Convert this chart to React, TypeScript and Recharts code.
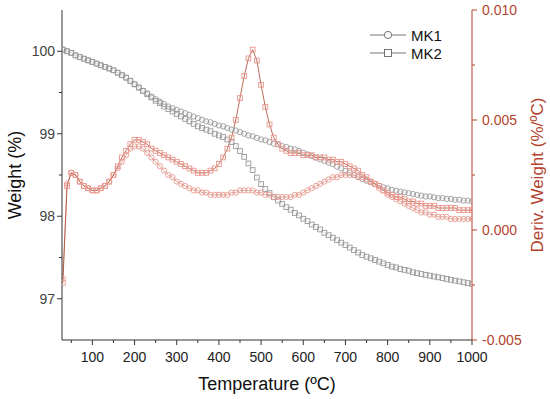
import { LineChart, Line, XAxis, YAxis, Legend } from 'recharts';

// temperature (ºC)
const temps = [
  30, 40, 50, 60, 70, 80, 90, 100, 110, 120, 130, 140, 150, 160, 170, 180, 190, 200,
  210, 220, 230, 240, 250, 260, 270, 280, 290, 300, 310, 320, 330, 340, 350, 360, 370, 380, 390, 400,
  410, 420, 430, 440, 450, 460, 470, 480, 490, 500, 510, 520, 530, 540, 550, 560, 570, 580, 590, 600,
  610, 620, 630, 640, 650, 660, 670, 680, 690, 700, 710, 720, 730, 740, 750, 760, 770, 780, 790, 800,
  810, 820, 830, 840, 850, 860, 870, 880, 890, 900, 910, 920, 930, 940, 950, 960, 970, 980, 990, 1000,
];

// weight (%)
const weightMK1 = [
  100.02, 100.0, 99.98, 99.95, 99.93, 99.91, 99.89, 99.87, 99.85, 99.83, 99.81, 99.79, 99.77, 99.74, 99.71, 99.68, 99.64, 99.6,
  99.56, 99.52, 99.49, 99.45, 99.42, 99.39, 99.36, 99.33, 99.31, 99.29, 99.27, 99.25, 99.23, 99.21, 99.19, 99.17, 99.15, 99.14, 99.12, 99.1,
  99.09, 99.07, 99.05, 99.04, 99.02, 99.0, 98.98, 98.97, 98.95, 98.93, 98.92, 98.9, 98.88, 98.87, 98.85, 98.84, 98.82, 98.81, 98.79, 98.77,
  98.75, 98.73, 98.71, 98.69, 98.67, 98.65, 98.63, 98.6, 98.58, 98.55, 98.53, 98.5, 98.48, 98.45, 98.43, 98.41, 98.39, 98.37, 98.35, 98.34,
  98.32, 98.31, 98.3, 98.29, 98.28, 98.27, 98.26, 98.25, 98.24, 98.24, 98.23, 98.22, 98.22, 98.21, 98.21, 98.2, 98.2, 98.19, 98.19, 98.18,
];
const weightMK2 = [
  100.02, 100.0, 99.98, 99.95, 99.93, 99.91, 99.89, 99.87, 99.85, 99.83, 99.81, 99.79, 99.77, 99.74, 99.71, 99.68, 99.64, 99.6,
  99.56, 99.52, 99.48, 99.44, 99.4, 99.37, 99.33, 99.3, 99.27, 99.24, 99.21, 99.18, 99.15, 99.12, 99.09, 99.07, 99.05, 99.03, 99.0, 98.98,
  98.96, 98.93, 98.9, 98.85, 98.79, 98.72, 98.64, 98.56, 98.47, 98.39, 98.33, 98.28, 98.23, 98.19, 98.15, 98.11, 98.08, 98.04, 98.01, 97.97,
  97.94, 97.9, 97.87, 97.84, 97.8, 97.77, 97.74, 97.71, 97.68, 97.65, 97.62, 97.59, 97.56, 97.53, 97.51, 97.49, 97.47, 97.45, 97.43, 97.41,
  97.39, 97.38, 97.36, 97.35, 97.34, 97.32, 97.31, 97.3, 97.29, 97.28, 97.27, 97.26, 97.25, 97.24, 97.23, 97.22, 97.21, 97.2, 97.19, 97.18,
];

// derivative weight (%/ºC)
const derivMK1 = [
  -0.0022, 0.0021, 0.0026, 0.0025, 0.0022, 0.002, 0.0019, 0.0018, 0.0018, 0.0019, 0.002, 0.0022, 0.0025, 0.0028, 0.0031, 0.0034, 0.0037, 0.0038,
  0.0038, 0.0037, 0.0035, 0.0033, 0.0031, 0.0029, 0.0027, 0.0025, 0.0024, 0.0022, 0.0021, 0.002, 0.0019, 0.0018, 0.0018, 0.0017, 0.0017, 0.0016, 0.0016, 0.0016,
  0.0016, 0.0016, 0.0017, 0.0017, 0.0018, 0.0018, 0.0018, 0.0018, 0.0017, 0.0017, 0.0016, 0.0016, 0.0015, 0.0015, 0.0015, 0.0015, 0.0015, 0.0016, 0.0016, 0.0017,
  0.0018, 0.0019, 0.002, 0.0021, 0.0022, 0.0023, 0.0024, 0.0024, 0.0025, 0.0025, 0.0025, 0.0025, 0.0024, 0.0024, 0.0023, 0.0022, 0.0021, 0.0019, 0.0018, 0.0016,
  0.0015, 0.0014, 0.0013, 0.0012, 0.0011, 0.001, 0.0009, 0.0008, 0.0008, 0.0007, 0.0007, 0.0006, 0.0006, 0.0006, 0.0005, 0.0005, 0.0005, 0.0005, 0.0005, 0.0005,
];
const derivMK2 = [
  -0.0024, 0.002, 0.0026, 0.0025, 0.0022, 0.002, 0.0019, 0.0018, 0.0018, 0.0019, 0.002, 0.0022, 0.0025, 0.0029, 0.0033, 0.0036, 0.0039, 0.0041,
  0.0041, 0.004, 0.0039, 0.0037, 0.0036, 0.0035, 0.0034, 0.0033, 0.0032, 0.0031, 0.003, 0.0029, 0.0028, 0.0027, 0.0026, 0.0026, 0.0026, 0.0027, 0.0028, 0.003,
  0.0033, 0.0037, 0.0042, 0.005, 0.006, 0.007, 0.0078, 0.0082, 0.0077, 0.0066, 0.0056, 0.0048, 0.0042, 0.0039, 0.0037, 0.0036, 0.0035, 0.0035, 0.0035, 0.0034,
  0.0034, 0.0034, 0.0033, 0.0033, 0.0033, 0.0032, 0.0032, 0.0031, 0.0031, 0.003, 0.0029, 0.0028, 0.0027, 0.0025, 0.0024, 0.0022, 0.0021, 0.002, 0.0018, 0.0017,
  0.0016, 0.0015, 0.0015, 0.0014, 0.0013, 0.0013, 0.0012, 0.0012, 0.0011, 0.0011, 0.0011, 0.001, 0.001, 0.001, 0.001, 0.001, 0.0009, 0.0009, 0.0009, 0.0009,
];

const xTicks = [50, 100, 150, 200, 250, 300, 350, 400, 450, 500, 550, 600, 650, 700, 750, 800, 850, 900, 950, 1000];
const xLabels = [100, 200, 300, 400, 500, 600, 700, 800, 900, 1000];
const leftTicks = [97, 97.5, 98, 98.5, 99, 99.5, 100];
const leftLabels = [97, 98, 99, 100];
const rightTicks = [-0.005, -0.0025, 0, 0.0025, 0.005, 0.0075, 0.01];
const rightLabels = [-0.005, 0, 0.005, 0.01];

const data = temps.map((t, i) => ({
  t,
  w1: weightMK1[i],
  w2: weightMK2[i],
  d1: derivMK1[i],
  d2: derivMK2[i],
}));

const AXIS = '#333';
const RED = '#b4432e';
const FONT = '"Liberation Sans", Arial, sans-serif';

const BottomTick = (p: any) => {
  const v = p.payload.value;
  const major = xLabels.includes(v);
  return (
    <g>
      <line x1={p.x} x2={p.x} y1={p.y} y2={p.y + (major ? 5 : 3)} stroke={AXIS} strokeWidth={1} />
      {major && (
        <text x={p.x} y={p.y + 22} textAnchor="middle" fontSize={14} fill="#222" fontFamily={FONT}>{v}</text>
      )}
    </g>
  );
};

const TopTick = (p: any) => {
  const major = xLabels.includes(p.payload.value);
  return <line x1={p.x} x2={p.x} y1={p.y} y2={p.y + (major ? 5 : 3)} stroke={AXIS} strokeWidth={1} />;
};

const LeftTick = (p: any) => {
  const v = p.payload.value;
  const major = leftLabels.includes(v);
  return (
    <g>
      <line x1={p.x - (major ? 5 : 3)} x2={p.x} y1={p.y} y2={p.y} stroke={AXIS} strokeWidth={1} />
      {major && (
        <text x={p.x - 7} y={p.y + 5} textAnchor="end" fontSize={14} fill="#444" fontFamily={FONT}>{v}</text>
      )}
    </g>
  );
};

const RightTick = (p: any) => {
  const v = p.payload.value;
  const major = rightLabels.includes(v);
  return (
    <g>
      <line x1={p.x} x2={p.x + (major ? 5 : 3)} y1={p.y} y2={p.y} stroke={RED} strokeWidth={1} />
      {major && (
        <text x={p.x + 10} y={p.y + 5} textAnchor="start" fontSize={14} fill={RED} fontFamily={FONT}>{v.toFixed(3)}</text>
      )}
    </g>
  );
};

const circleDot = (color: string) => (p: any) => (
  <circle key={`c${p.dataKey}${p.index}`} cx={p.cx} cy={p.cy} r={2.6} fill="none" stroke={color} strokeWidth={0.9} />
);
const squareDot = (color: string) => (p: any) => (
  <rect key={`s${p.dataKey}${p.index}`} x={p.cx - 2.4} y={p.cy - 2.4} width={4.8} height={4.8} fill="none" stroke={color} strokeWidth={0.9} />
);

const legendItems = [
  { name: 'MK1', shape: 'circle' },
  { name: 'MK2', shape: 'square' },
];

const LegendBox = () => (
  <div style={{ fontFamily: FONT, fontSize: 15, color: '#111' }}>
    {legendItems.map((it) => (
      <div key={it.name} style={{ display: 'flex', alignItems: 'center', height: 18 }}>
        <svg width={40} height={12}>
          <line x1={2} x2={38} y1={6} y2={6} stroke="#666" strokeWidth={0.9} />
          {it.shape === 'circle' ? (
            <circle cx={20} cy={6} r={3.6} fill="#fff" stroke="#666" strokeWidth={0.9} />
          ) : (
            <rect x={16.5} y={2.5} width={7} height={7} fill="#fff" stroke="#666" strokeWidth={0.9} />
          )}
        </svg>
        <span style={{ marginLeft: 3 }}>{it.name}</span>
      </div>
    ))}
  </div>
);

export default function App() {
  return (
    <div style={{ position: 'absolute', left: 0, top: 0, background: '#fff' }}>
      <LineChart width={550} height={399} data={data} margin={{ top: 10, right: 0, bottom: 0, left: 0 }}>
        <XAxis
          dataKey="t"
          type="number"
          domain={[28, 1000]}
          allowDataOverflow
          ticks={xTicks}
          interval={0}
          tickSize={0}
          tickMargin={0}
          tickLine={false}
          tick={BottomTick}
          height={59}
          stroke={AXIS}
          label={{ value: 'Temperature (ºC)', position: 'center', dy: 14, fontSize: 18, fill: '#111', fontFamily: FONT }}
        />
        <XAxis
          xAxisId="top"
          orientation="top"
          type="number"
          domain={[28, 1000]}
          allowDataOverflow
          ticks={xTicks}
          interval={0}
          tickSize={0}
          tickMargin={0}
          tickLine={false}
          tick={TopTick}
          height={0}
          stroke={AXIS}
        />
        <YAxis
          yAxisId="w"
          domain={[96.5, 100.5]}
          allowDataOverflow
          ticks={leftTicks}
          interval={0}
          tickSize={0}
          tickMargin={0}
          tickLine={false}
          tick={LeftTick}
          width={62}
          stroke={AXIS}
          label={{ value: 'Weight (%)', angle: -90, position: 'center', dx: -16, fontSize: 18, fill: '#111', fontFamily: FONT }}
        />
        <YAxis
          yAxisId="d"
          orientation="right"
          domain={[-0.005, 0.01]}
          allowDataOverflow
          ticks={rightTicks}
          interval={0}
          tickSize={0}
          tickMargin={0}
          tickLine={false}
          tick={RightTick}
          width={78}
          stroke={RED}
          label={{ value: 'Deriv. Weight (%/ºC)', angle: -90, position: 'center', dx: 26, fontSize: 17, fill: RED, fontFamily: FONT }}
        />
        <Legend
          layout="vertical"
          align="center"
          verticalAlign="middle"
          content={LegendBox}
          wrapperStyle={{ position: 'absolute', left: 368, top: 26, width: 100, height: 40 }}
        />
        <Line yAxisId="w" dataKey="w1" name="MK1" stroke="#c4c4c4" strokeWidth={0.4} dot={circleDot('#999')} isAnimationActive={false} legendType="none" />
        <Line yAxisId="w" dataKey="w2" name="MK2" stroke="#c4c4c4" strokeWidth={0.4} dot={squareDot('#999')} isAnimationActive={false} legendType="none" />
        <Line yAxisId="d" dataKey="d1" name="MK1 deriv" stroke="#c0705e" strokeWidth={0.6} dot={circleDot('#e9968c')} isAnimationActive={false} legendType="none" />
        <Line yAxisId="d" dataKey="d2" name="MK2 deriv" stroke="#a8452f" strokeWidth={0.8} dot={squareDot('#e9968c')} isAnimationActive={false} legendType="none" />
      </LineChart>
    </div>
  );
}
